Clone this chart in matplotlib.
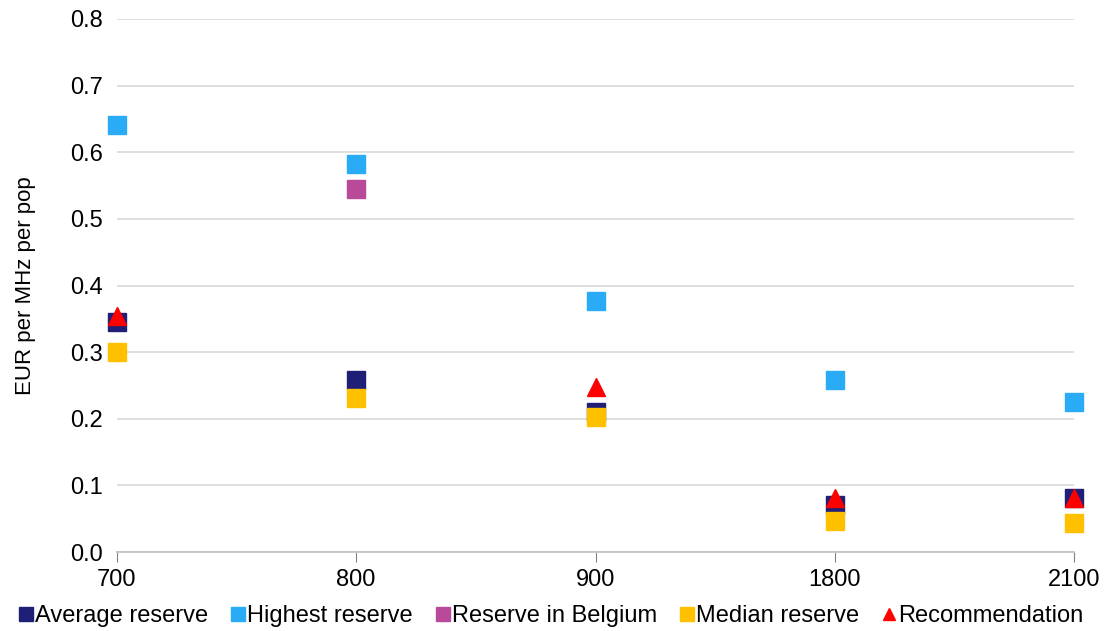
import matplotlib.pyplot as plt

plt.rcParams['font.family'] = ['Liberation Sans', 'DejaVu Sans']

bands = ['700', '800', '900', '1800', '2100']
average_reserve = [0.345, 0.259, 0.21, 0.071, 0.081]
highest_reserve = [0.641, 0.583, 0.377, 0.258, 0.225]
belgium_bands = ['800']
belgium_reserve = [0.545]
median_reserve = [0.30, 0.231, 0.202, 0.047, 0.044]
recommendation = [0.355, float('nan'), 0.248, 0.081, 0.081]

fig = plt.figure(figsize=(11.1, 6.31), dpi=100)
ax = fig.add_axes([0.105, 0.125, 0.863, 0.845])

x = list(range(len(bands)))
bx = [bands.index(b) for b in belgium_bands]

ms = 13.5
ax.plot(x, average_reserve, 's', color='#1F1F77', ms=ms, label='Average reserve', zorder=3, clip_on=False)
ax.plot(x, highest_reserve, 's', color='#29ABF5', ms=ms, label='Highest reserve', zorder=3, clip_on=False)
ax.plot(bx, belgium_reserve, 's', color='#B94A9A', ms=ms, label='Reserve in Belgium', zorder=3, clip_on=False)
ax.plot(x, median_reserve, 's', color='#FFC000', ms=ms, label='Median reserve', zorder=3, clip_on=False)
ax.plot(x, recommendation, '^', color='#FF0000', ms=12.5, label='Recommendation', zorder=4, clip_on=False)

ax.set_xlim(0, len(bands) - 1)
ax.set_ylim(0, 0.8)
ax.set_xticks(x)
ax.set_xticklabels(bands)
ax.set_yticks([i / 10 for i in range(9)])
ax.set_yticklabels([f'{i / 10:.1f}' for i in range(9)])
ax.grid(axis='y', color='#D9D9D9', linewidth=1.2)
ax.set_axisbelow(True)
for s in ['top', 'right', 'left']:
    ax.spines[s].set_visible(False)
ax.spines['bottom'].set_color('#BFBFBF')
ax.spines['bottom'].set_linewidth(1.2)
ax.tick_params(axis='x', length=7, color='#808080', labelsize=17, pad=5)
ax.tick_params(axis='y', length=0, labelsize=17, pad=10)
ax.set_ylabel('EUR per MHz per pop', fontsize=16, labelpad=24)

handles, labels = ax.get_legend_handles_labels()
leg = fig.legend(handles, labels, loc='lower center', bbox_to_anchor=(0.497, -0.027), ncol=5,
                 frameon=False, fontsize=17, handlelength=0.5, handletextpad=0.15,
                 columnspacing=1.0, markerscale=0.7)

fig.savefig('out.png', dpi=100)
